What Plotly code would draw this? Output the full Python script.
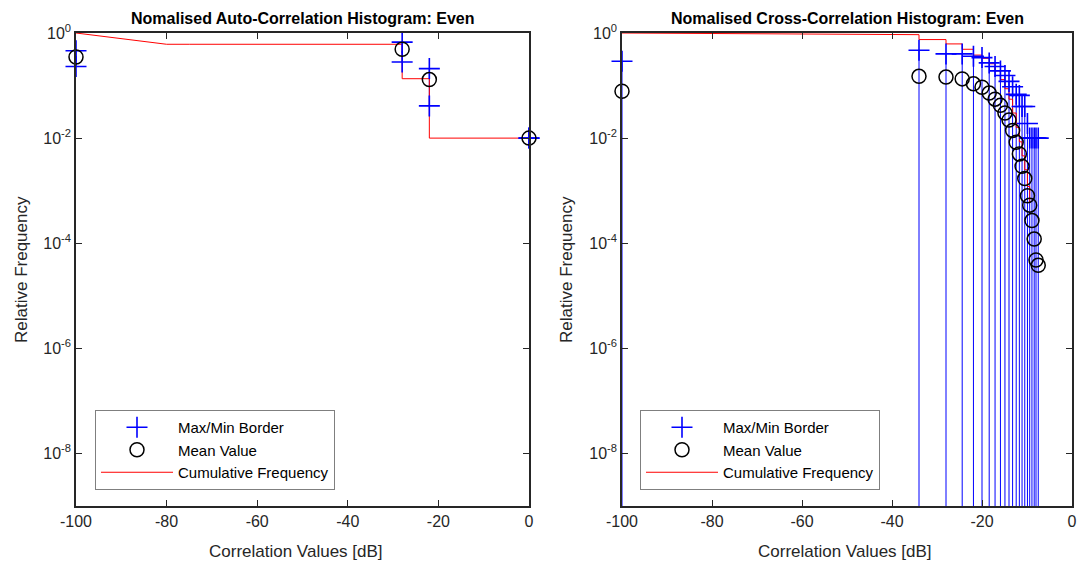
import numpy as np
import plotly.graph_objects as go

# ---------------- data ----------------
auto_x = [-100, -28.0, -22.0, 0]
auto_max = [0.46, 0.67, 0.21, 0.01]
auto_min = [0.23, 0.28, 0.041, 0.01]
auto_mean = [0.35, 0.49, 0.13, 0.01]
auto_cum_x = [-100, -80, -75, -50, -28.0, -28.0, -22.0, -22.0, 0]
auto_cum_y = [1.0, 0.61, 0.61, 0.61, 0.61, 0.135, 0.135, 0.01, 0.01]

cross_x = [-100, -34.0, -28.0, -24.4, -21.9, -20.0, -18.4, -17.1, -15.9, -14.9, -14.0,
           -13.2, -12.4, -11.7, -11.1, -10.5, -9.9, -9.4, -8.9, -8.4, -8.0, -7.5]
cross_max = [0.29, 0.47, 0.40, 0.40, 0.36, 0.34, 0.27, 0.23, 0.19, 0.155, 0.12,
             0.095, 0.068, 0.065, 0.04, 0.04, 0.019, 0.01, 0.01, 0.01, 0.01, 0.01]
cross_min = [0] * 22
cross_mean = [0.078, 0.15, 0.145, 0.134, 0.108, 0.093, 0.072, 0.055, 0.042, 0.03, 0.022,
              0.014, 0.0083, 0.005, 0.0029, 0.0017, 0.0008, 0.00053, 0.00027, 0.00012,
              0.000048, 0.000038]
cross_cum_x = [-100, -34, -34, -28, -28, -24.4, -24.4, -21.9, -21.9, -20.0, -20.0, -18.4,
               -18.4, -17.1, -17.1, -15.9, -15.9, -14.9, -14.9, -14.0, -14.0, -13.2, -13.2,
               -12.4, -12.4, -11.7, -11.7, -11.1, -11.1, -10.5, -10.5, -9.9, -9.9, -9.4, -9.4]
cross_cum_y = [1.0, 0.93, 0.75, 0.75, 0.62, 0.62, 0.49, 0.49, 0.38, 0.38, 0.33, 0.33,
               0.26, 0.26, 0.19, 0.19, 0.13, 0.13, 0.087, 0.087, 0.055, 0.055, 0.03,
               0.03, 0.016, 0.016, 0.0085, 0.0085, 0.0046, 0.0046, 0.0025, 0.0025,
               0.0012, 0.0012, 0.0006]

x_tickvals = [-100, -80, -60, -40, -20, 0]
x_ticktext = ["-100", "-80", "-60", "-40", "-20", "0"]
y_tickvals = [1, 1e-2, 1e-4, 1e-6, 1e-8]
y_ticktext = ["10<sup>0</sup>", "10<sup>-2</sup>", "10<sup>-4</sup>", "10<sup>-6</sup>", "10<sup>-8</sup>"]

titles = ["Nomalised Auto-Correlation Histogram: Even",
          "Nomalised Cross-Correlation Histogram: Even"]
xlabel = "Correlation Values [dB]"
ylabel = "Relative Frequency"
legend_names = ["Max/Min Border", "Mean Value", "Cumulative Frequency"]

# ---------------- figure ----------------
W, H = 1078, 565
FONT = "Arial, Liberation Sans, sans-serif"
TXT = "#262626"
BOTTOM = 1e-12  # stand-in for zero on log axis

# plot-area geometry (pixels)
L, R, T, B = 76, 1072, 33, 506
PW, PH = R - L, B - T


def px2x(px):
    return (px - L) / PW


def py2y(py):
    return (B - py) / PH


fig = go.Figure()


def add_panel(xs, mx, mn, mean, cx, cy, xa, ya, leg):
    xs = np.asarray(xs, float)
    mx = np.asarray(mx, float)
    mn = np.asarray(mn, float)
    lo = np.where(mn > 0, mn, BOTTOM)
    vx, vy = [], []
    for a, b, c in zip(xs, lo, mx):
        vx += [a, a, None]
        vy += [b, c, None]
    fig.add_trace(go.Scatter(x=vx, y=vy, mode="lines", line=dict(color="#0000ff", width=1),
                             xaxis=xa, yaxis=ya, showlegend=False, hoverinfo="skip"))
    fig.add_trace(go.Scatter(x=cx, y=cy, mode="lines", line=dict(color="#ff0000", width=1),
                             xaxis=xa, yaxis=ya, name=legend_names[2], legend=leg,
                             legendrank=3))
    px = np.concatenate([xs, xs[mn > 0]])
    py = np.concatenate([mx, mn[mn > 0]])
    fig.add_trace(go.Scatter(x=px, y=py, mode="markers", cliponaxis=False,
                             marker=dict(symbol="cross-thin", size=15,
                                         line=dict(color="#0000ff", width=1.6)),
                             xaxis=xa, yaxis=ya, name=legend_names[0], legend=leg,
                             legendrank=1))
    fig.add_trace(go.Scatter(x=xs, y=mean, mode="markers", cliponaxis=False,
                             marker=dict(symbol="circle-open", size=14, color="#000000",
                                         line=dict(color="#000000", width=1.5)),
                             xaxis=xa, yaxis=ya, name=legend_names[1], legend=leg,
                             legendrank=2))


add_panel(auto_x, auto_max, auto_min, auto_mean, auto_cum_x, auto_cum_y, "x", "y", "legend")
add_panel(cross_x, cross_max, cross_min, cross_mean, cross_cum_x, cross_cum_y, "x2", "y2", "legend2")

doms_px = [[76, 529], [622, 1072]]
doms = [[px2x(a), px2x(b)] for a, b in doms_px]

axis_common = dict(showline=True, linecolor=TXT, linewidth=1.5, mirror="ticks",
                   ticks="inside", ticklen=6, tickwidth=1.2, tickcolor=TXT,
                   showgrid=False, zeroline=False, automargin=False,
                   tickfont=dict(family=FONT, size=16, color=TXT))

leg_common = dict(xanchor="left", yanchor="top", bgcolor="white", bordercolor="#7f7f7f",
                  borderwidth=1, font=dict(family=FONT, size=15, color="#000000"),
                  itemwidth=72, traceorder="normal", tracegroupgap=0)

fig.update_layout(
    width=W, height=H, margin=dict(l=L, r=W - R, t=T, b=H - B, autoexpand=False),
    paper_bgcolor="white", plot_bgcolor="white",
    xaxis=dict(domain=doms[0], range=[-100, 0], tickvals=x_tickvals, ticktext=x_ticktext,
               anchor="y", **axis_common),
    yaxis=dict(domain=[0, 1], type="log", range=[-9, 0], tickvals=y_tickvals,
               ticktext=y_ticktext, anchor="x", **axis_common),
    xaxis2=dict(domain=doms[1], range=[-100, 0], tickvals=x_tickvals, ticktext=x_ticktext,
                anchor="y2", **axis_common),
    yaxis2=dict(domain=[0, 1], type="log", range=[-9, 0], tickvals=y_tickvals,
                ticktext=y_ticktext, anchor="x2", **axis_common),
    showlegend=True,
    legend=dict(x=px2x(95), y=py2y(410), **leg_common),
    legend2=dict(x=px2x(640), y=py2y(410), **leg_common),
)

ann = []
label_centers = [296, 845]
for i, t in enumerate(titles):
    cxp = (doms_px[i][0] + doms_px[i][1]) / 2
    ann.append(dict(text="<b>" + t + "</b>", x=px2x(cxp), y=py2y(18), xref="paper", yref="paper",
                    showarrow=False, font=dict(family=FONT, size=16, color="#000000"),
                    xanchor="center", yanchor="middle"))
    ann.append(dict(text=xlabel, x=px2x(label_centers[i]), y=py2y(551), xref="paper",
                    yref="paper", showarrow=False, font=dict(family=FONT, size=17, color=TXT),
                    xanchor="center", yanchor="middle"))
for xp in (21, 566):
    ann.append(dict(text=ylabel, x=px2x(xp), y=py2y(270), xref="paper", yref="paper",
                    textangle=-90, showarrow=False, font=dict(family=FONT, size=17, color=TXT),
                    xanchor="center", yanchor="middle"))
fig.update_layout(annotations=ann)

fig.write_html("out.html")
